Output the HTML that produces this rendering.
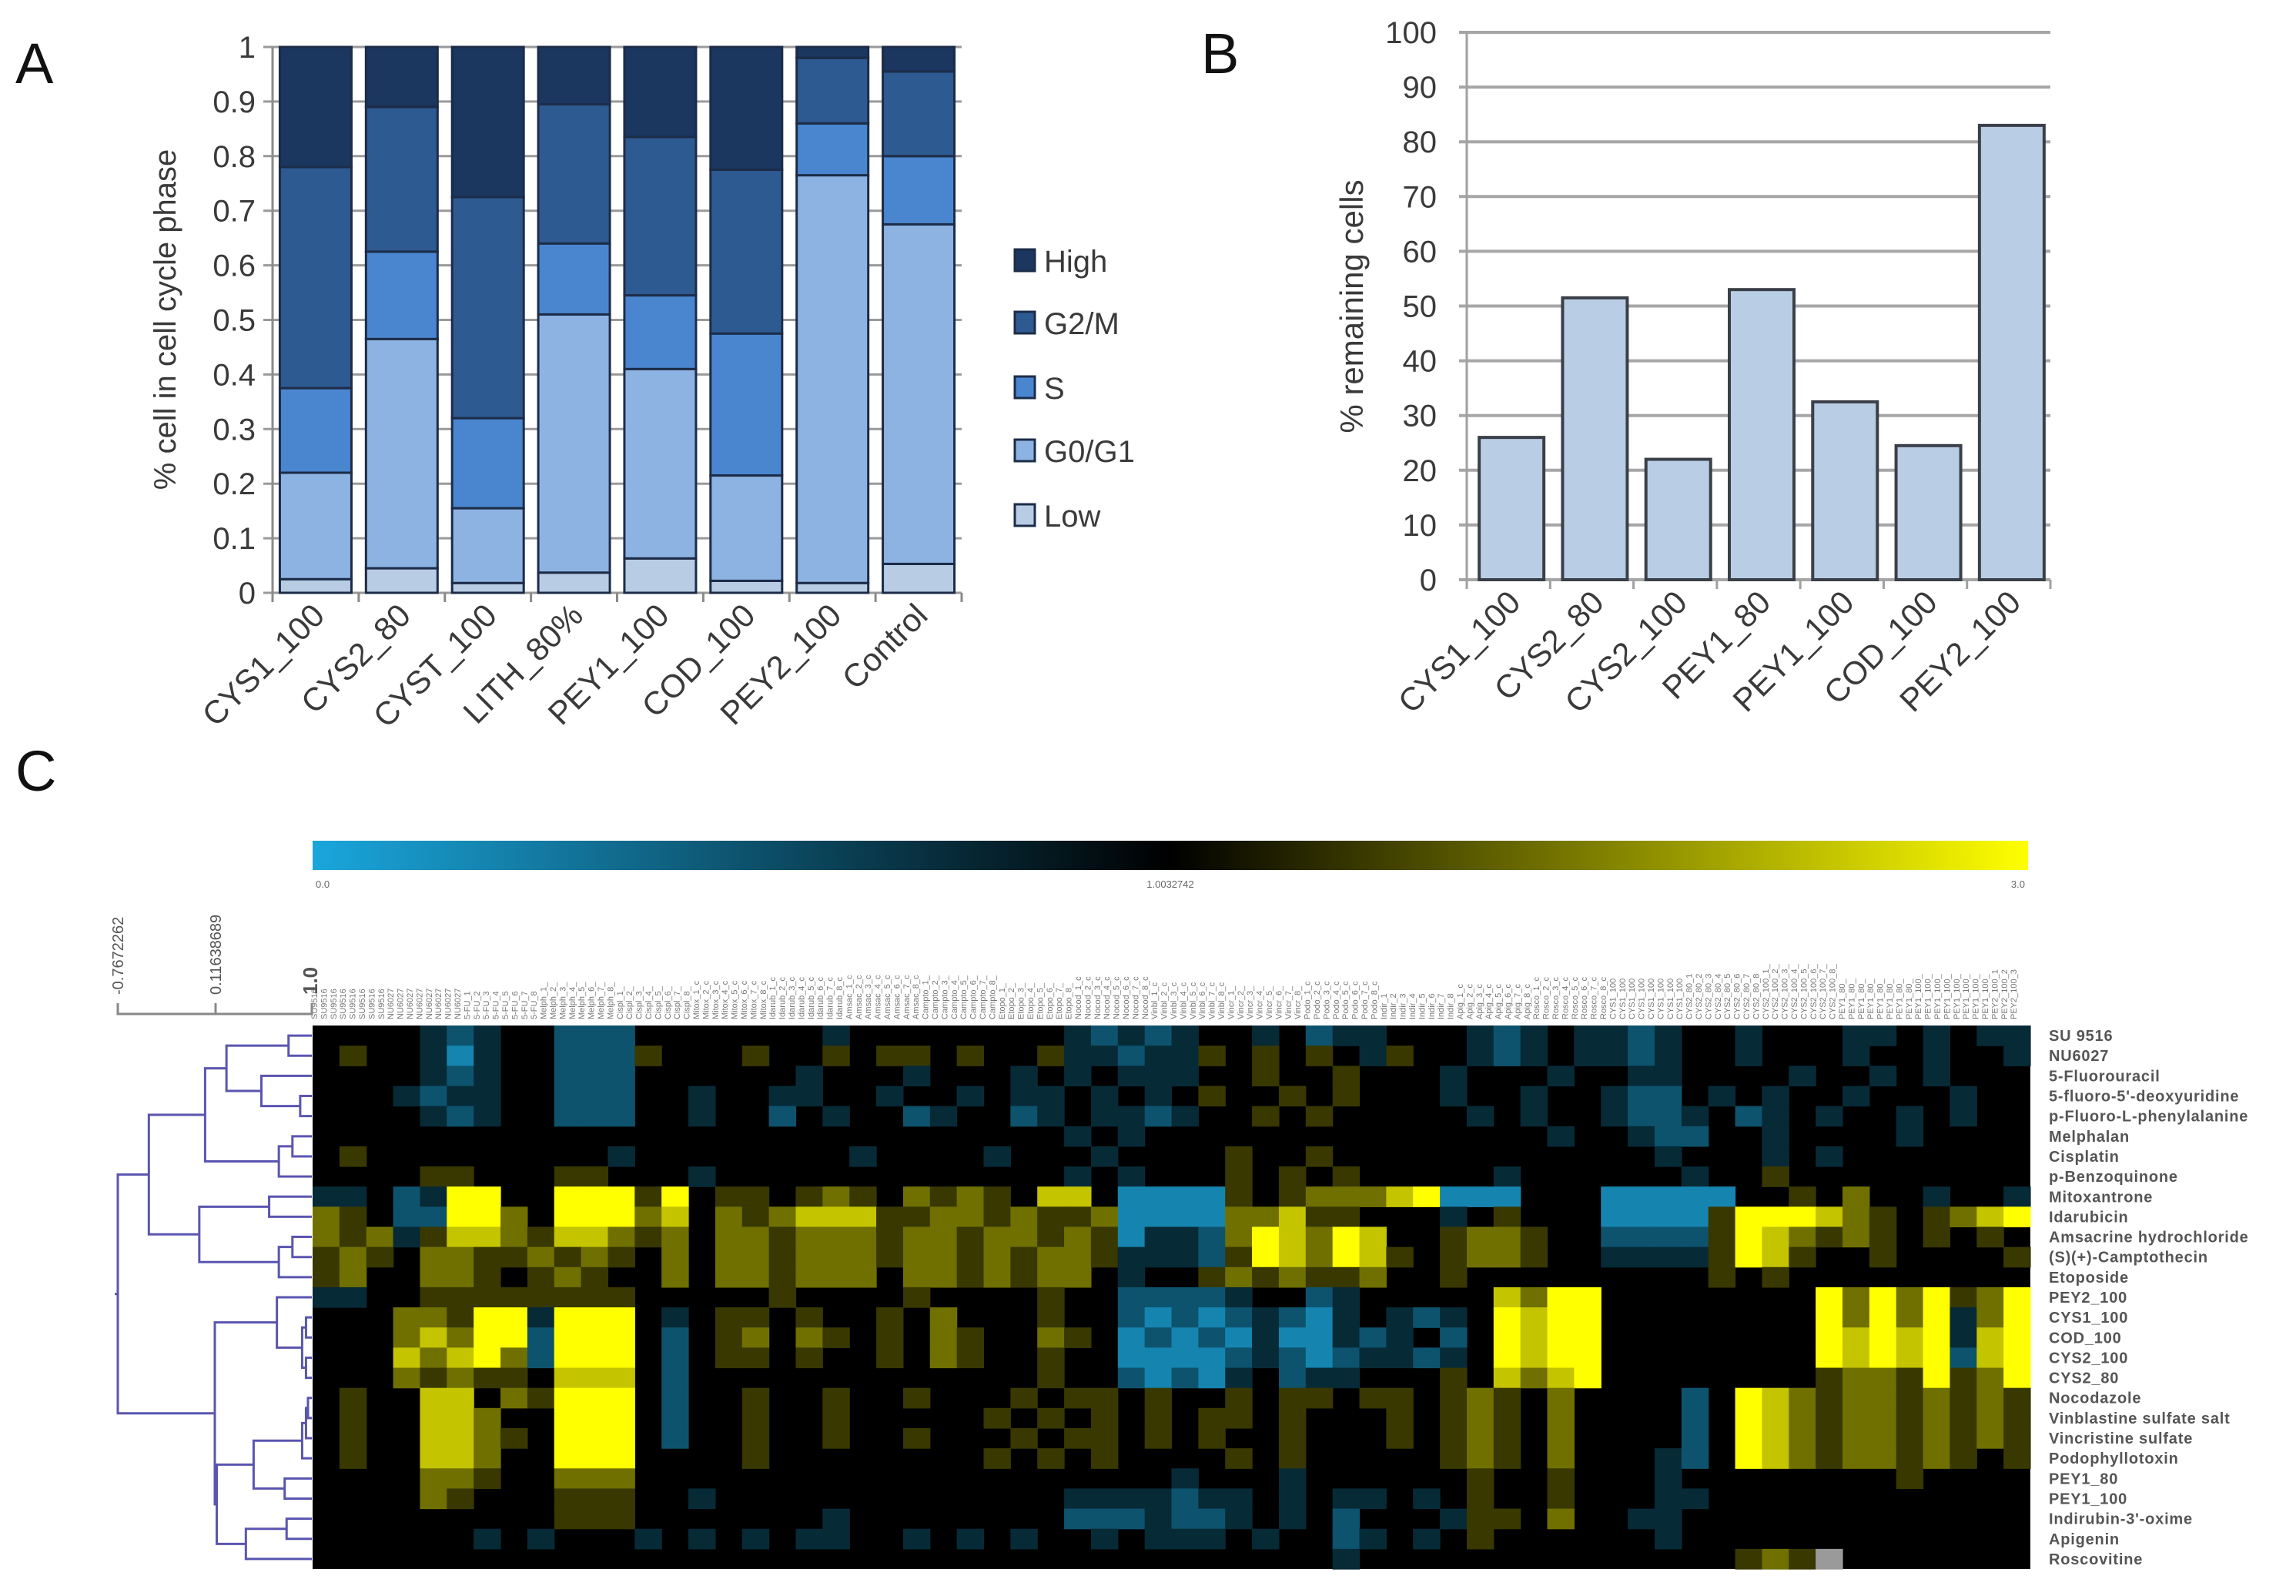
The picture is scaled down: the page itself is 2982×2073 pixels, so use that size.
<!DOCTYPE html>
<html><head><meta charset="utf-8"><style>
html,body{margin:0;padding:0;background:#fff;}
svg{display:block;font-family:"Liberation Sans",sans-serif;}
</style></head><body>
<svg id="fig" width="2982" height="2073" viewBox="0 0 2982 2073" xmlns="http://www.w3.org/2000/svg">
<defs>
<linearGradient id="cbar" x1="0" x2="1" y1="0" y2="0">
<stop offset="0" stop-color="#1aa6dc"/><stop offset="0.5" stop-color="#000"/><stop offset="1" stop-color="#ffff00"/>
</linearGradient>
</defs>
<text x="20" y="108" font-size="74" fill="#111">A</text>
<text x="1560" y="95" font-size="74" fill="#111">B</text>
<text x="20" y="1027" font-size="74" fill="#111">C</text>
<g id="pa"></g>
<g id="pb"></g>
<g id="pc"></g>
</svg>
<script>
// ---------- Panel A data ----------
const catsA = ["CYS1_100","CYS2_80","CYST_100","LITH_80%","PEY1_100","COD_100","PEY2_100","Control"];
const seriesA = ["Low","G0/G1","S","G2/M","High"];
const lowA  = [0.025,0.045,0.018,0.037,0.063,0.022,0.018,0.053];
const g0g1A = [0.195,0.420,0.137,0.473,0.347,0.193,0.747,0.622];
const sA    = [0.155,0.160,0.165,0.130,0.135,0.260,0.095,0.125];
const g2mA  = [0.405,0.265,0.405,0.255,0.290,0.300,0.120,0.155];
const highA = [0.220,0.110,0.275,0.105,0.165,0.225,0.020,0.045];
const ticksA = ["0","0.1","0.2","0.3","0.4","0.5","0.6","0.7","0.8","0.9","1"];
// ---------- Panel B data ----------
const catsB = ["CYS1_100","CYS2_80","CYS2_100","PEY1_80","PEY1_100","COD_100","PEY2_100"];
const valsB = [26,51.5,22,53,32.5,24.5,83];
const ticksB = [0,10,20,30,40,50,60,70,80,90,100];
// ---------- Panel C data ----------
const rowNames = ["SU 9516","NU6027","5-Fluorouracil","5-fluoro-5'-deoxyuridine","p-Fluoro-L-phenylalanine","Melphalan","Cisplatin","p-Benzoquinone","Mitoxantrone","Idarubicin","Amsacrine hydrochloride","(S)(+)-Camptothecin","Etoposide","PEY2_100","CYS1_100","COD_100","CYS2_100","CYS2_80","Nocodazole","Vinblastine sulfate salt","Vincristine sulfate","Podophyllotoxin","PEY1_80","PEY1_100","Indirubin-3'-oxime","Apigenin","Roscovitine"];
const rowCodes = [
["....dcd.",".ccc....","...d....","....dcdc","d..d.cdd","...dcd.d","dcd..d..",".dd.d.dd"],
[".o..dCd.",".ccco...","o..o.oo.","o..oddcd","do.o.o.d","o..dcd.d","dcd..d..",".d..d..d"],
["....dcd.",".ccc....","..d...d.","..d.d.dd","d..o..o.","..d...d.",".dd....d","..d.d..."],
["...dcdd.",".ccc..d.",".dd..d..","d.dd.d.d",".o..o.o.","..d..d..","dcc.d.d.",".d...d.."],
["....dcd.",".ccc..d.",".c.d..cd","..cd.ddc","d..o.o..","...d.d..","dccd.cd.","d..d.d.."],
["........","........","........","....d.d.","........","......d.",".dcc..d.","...d...."],
[".o......","...d....","....d...",".d...d..","..o..o..","........","..d...d.","d......."],
["....oo..",".oo...d.","........","....d.d.","..o.o.o.","....d...","...d..o.","........"],
["dd.cdZZ.",".ZZZoZ.o","o.oyo.yo","yo.YY.CC","CCo.oyyy","YZCCC...","CCCCC..o",".y..d..d"],
["yo.ccZZy",".ZZZyY.y","oyYYYooy","yoyooyCC","CCyyYoo.","..d.o...","CCCCoZZZ","Yyo.oyYZ"],
["yoydoYYy","oYYyoy.y","yoyyyoyy","oyyoyoCd","dcyZYyZY","..oyyo..","ccccoZYy","oyo.o.o."],
["oyo.yyoo","yoyo.y.y","yoyyyoyy","oyoyyodd","dcoZYyZY","o.oyyo..","ddddoZYo","..o....o"],
["oy..yyo.","oyo..y.y","yoyyy.yy","oyoyy.d.",".oyoyooy","..o.....","....o.o.","........"],
["dd..oooo","oooo....",".o....o.","...o..cc","ccd..cd.","....YyZZ","........","ZyZyZoyZ"],
["...yyoZZ","dZZZ.d.o","o.o..o.y","...o..cC","cCcdcCd.","dcd.ZYZZ","........","ZyZyZdyZ"],
["...yYyZZ","cZZZ.c.o","y.yo.o.y","o..yo.Cc","CcCdCCdc","d.c.ZYZZ","........","ZYZYZdYZ"],
["...YyYZy","cZZZ.c.o","o.o..o.y","o..o..CC","CCcdcCcd","dcd.ZYZZ","........","ZYZYZcYZ"],
["...yoyoo",".YYY.c..","........","...o..cC","cCd.cdd.","..o.YyYZ","........","oyyoZoyZ"],
[".o..YY.y","oZZZ.c..","o..o..o.","..o.oo.o","..o.oo.o","o.oyo.y.","...c.ZYy","oyyoyoyo"],
[".o..YYy.",".ZZZ.c..","o..o....",".o.o.o.o",".oo.o...","o.oyo.y.","...c.ZYy","oyyoyoyo"],
[".o..YYyo",".ZZZ.c..","o..o..o.","..o.oo.o",".o..o...","o.oyo.y.","...c.ZYy","oyyoyoyo"],
[".o..YYy.",".ZZZ....","o.......",".o.o.o..","..o.o...","..oyo.y.","..dc.ZYy","oyyoyo.o"],
["....yyo.",".yyy....","........","........","d...d...","...o..o.","..d.....","...o...."],
["....yo..",".ooo..d.","........","....dddd","cdd.d.dd",".d.o..o.","..dd....","........"],
["........",".ooo....","...d....","....cccd","ccd.d.c.","..doo.y.",".dd.....","........"],
["......d.","d...d.d.","d.dd..d.","d.d..d.d","dd.d..cd",".d.o....","..d.....","........"],
["........","........","........","........","......d.","........",".....oyo","g......."]
];
const codeValue = {".":1.0,"d":0.75,"c":0.5,"C":0.2,"o":1.4,"y":1.8,"Y":2.4,"Z":3.0,"g":-1};
const cbarLabels = ["0.0","1.0032742","3.0"];
const dendroScale = ["-0.7672262","0.11638689","1.0"];
// merges: [childA, childB, height]; leaves 0..26, new nodes numbered from 27
const merges = [
[0,1,0.88],[3,4,0.94],[2,28,0.74],[27,29,0.56],[5,6,0.90],[31,7,0.83],[30,32,0.45],
[8,9,0.78],[10,11,0.90],[35,12,0.83],[34,36,0.42],[33,37,0.16],
[14,15,0.97],[16,17,0.97],[39,40,0.95],[13,41,0.82],
[18,19,0.98],[43,20,0.97],[44,21,0.95],[22,23,0.86],[45,46,0.70],[24,25,0.87],[48,26,0.66],[47,49,0.51],
[42,50,0.50],[38,51,0.0]
];

const NS="http://www.w3.org/2000/svg";
function mk(parent,tag,attrs,text){const e=document.createElementNS(NS,tag);for(const k in attrs)e.setAttribute(k,attrs[k]);if(text!==undefined)e.textContent=text;parent.appendChild(e);return e;}

// ===== Panel A =====
(function(){
const g=document.getElementById('pa');
const x0=354,x1=1249,yB=770,yT=61;
const ys=v=>yB-v*(yB-yT);
const cw=(x1-x0)/catsA.length, bw=93;
ticksA.forEach((t,i)=>{const v=i/10;const y=ys(v);
 const gl=mk(g,'line',{x1:x0-12,x2:x1,y1:y,y2:y,stroke:'#9a9a9a','stroke-width':3});
 
 
 const tl=mk(g,'text',{x:332,y:y+14,'font-size':40,'text-anchor':'end',fill:'#3a3a3a'},t);
 
 
});
mk(g,'line',{x1:x0,x2:x0,y1:yT,y2:yB+10,stroke:'#8a8a8a','stroke-width':3});
for(let i=0;i<=catsA.length;i++){mk(g,'line',{x1:x0+i*cw,x2:x0+i*cw,y1:yB,y2:yB+12,stroke:'#8a8a8a','stroke-width':3});}
const cols=["#b8cce4","#8db3e2","#4a86cf","#2e5a92","#1b365f"];
const ser=[lowA,g0g1A,sA,g2mA,highA];
catsA.forEach((c,i)=>{
 const bx=x0+i*cw+(cw-bw)/2; let acc=0;
 ser.forEach((arr,k)=>{const v=arr[i];
  const r=mk(g,'rect',{x:bx,y:ys(acc+v),width:bw,height:ys(acc)-ys(acc+v),fill:cols[k],stroke:'#1c2c48','stroke-width':3});
  
  
  acc+=v;});
 const cx=bx+bw/2+14;
 const tl=mk(g,'text',{x:cx,y:yB+32,'font-size':42,'text-anchor':'end',fill:'#3a3a3a',transform:`rotate(-45 ${cx} ${yB+32})`},c);
 
 
});
const yl=mk(g,'text',{x:0,y:0,'font-size':40,'text-anchor':'middle',fill:'#3a3a3a',transform:'translate(228 415) rotate(-90)'},'% cell in cell cycle phase');


const lys=[339,420,504,586,670];
[4,3,2,1,0].forEach((k,j)=>{
 const sq=mk(g,'rect',{x:1318,y:lys[j]-15,width:26,height:28,fill:cols[k],stroke:'#1c2c48','stroke-width':3});
 
 
 const t=mk(g,'text',{x:1356,y:lys[j]+14,'font-size':40,fill:'#3a3a3a'},seriesA[k]);
 
 
});
})();

// ===== Panel B =====
(function(){
const g=document.getElementById('pb');
const x0=1905,x1=2663,yB=753,yT=42;
const ys=v=>yB-v/100*(yB-yT);
const cw=(x1-x0)/catsB.length, bw=84;
ticksB.forEach(v=>{const y=ys(v);
 const gl=mk(g,'line',{x1:x0-10,x2:x1,y1:y,y2:y,stroke:'#a6a6a6','stroke-width':4});
 
 
 const t=mk(g,'text',{x:1866,y:y+14,'font-size':40,'text-anchor':'end',fill:'#3a3a3a'},String(v));
 
 
});
mk(g,'line',{x1:x0,x2:x0,y1:yT,y2:yB+10,stroke:'#a0a0a0','stroke-width':3});
for(let i=0;i<=catsB.length;i++){mk(g,'line',{x1:x0+i*cw,x2:x0+i*cw,y1:yB,y2:yB+12,stroke:'#a0a0a0','stroke-width':3});}
catsB.forEach((c,i)=>{
 const bx=x0+i*cw+(cw-bw)/2+4;
 const r=mk(g,'rect',{x:bx,y:ys(valsB[i]),width:bw,height:yB-ys(valsB[i]),fill:'#b9cde5',stroke:'#3a3f48','stroke-width':4});
 
 
 const cx=bx+bw/2+14;
 const t=mk(g,'text',{x:cx,y:yB+32,'font-size':42,'text-anchor':'end',fill:'#3a3a3a',transform:`rotate(-45 ${cx} ${yB+32})`},c);
 
 
});
const yl=mk(g,'text',{x:0,y:0,'font-size':42,'text-anchor':'middle',fill:'#3a3a3a',transform:'translate(1770 398) rotate(-90)'},'% remaining cells');


})();

// ===== Panel C =====
(function(){
const g=document.getElementById('pc');
const hx0=406,hx1=2637,hy0=1332,hy1=2038;
const rows=rowCodes.map(r=>r.join(''));
const nC=64,nR=rows.length;
const cw=(hx1-hx0)/nC, rh=(hy1-hy0)/nR;
const cb=mk(g,'rect',{x:406,y:1092,width:2228,height:38,fill:'url(#cbar)'});


[[410,'start'],[1520,'middle'],[2630,'end']].forEach((p,i)=>{
 const t=mk(g,'text',{x:p[0],y:1153,'font-size':13,'text-anchor':p[1],fill:'#666'},cbarLabels[i]);
 
 
});
function color(v){
 if(v<0)return '#9a9a9a';
 if(v<=1){const t=1-v;return `rgb(${Math.round(26*t)},${Math.round(166*t)},${Math.round(220*t)})`;}
 const t=Math.min(1,(v-1)/2);const c=Math.round(255*Math.min(1,t*1.1));return `rgb(${c},${c},0)`;
}
mk(g,'rect',{x:hx0,y:hy0,width:hx1-hx0,height:hy1-hy0,fill:'#000'});
rows.forEach((s,r)=>{
 for(let c=0;c<nC;c++){
  const ch=s[c]||'.';const v=codeValue[ch]!==undefined?codeValue[ch]:1;
  if(ch==='.')continue;
  const cell=mk(g,'rect',{x:hx0+c*cw,y:hy0+r*rh,width:cw+0.6,height:rh+0.6,fill:color(v)});
  
  
 }
 const t=mk(g,'text',{x:2661,y:hy0+(r+0.5)*rh+7,'font-size':20,'font-weight':'bold',fill:'#555','letter-spacing':'0.8'},rowNames[r]);
 
 
});
// column labels (tiny rotated)
const colBase=["SU9516","NU6027","5-FU","Melph","Cispl","Mitox","Idarub","Amsac","Campto","Etopo","Nocod","Vinbl","Vincr","Podo","Indir","Apig","Rosco","CYS1_100","CYS2_80","CYS2_100","PEY1_80","PEY1_100","PEY2_100","COD_100"];
const colLen=[4,4,4,6,6,8,10,9,7,6,9,8,6,8,5,7,9,6,7,9,6,7,8,9];
const nL=Math.floor((hx1-hx0)/12.4);
for(let i=0;i<nL;i++){
 const x=hx0+6+i*12.4;const b=colBase[Math.floor(i/8)%colBase.length];
 const nm=(b+"_"+(i%8+1)+"_c").slice(0,colLen[Math.floor(i/8)%colLen.length]+2);
 const t=mk(g,'text',{x:0,y:0,'font-size':11,fill:'#777',transform:`translate(${x} 1324) rotate(-90)`},nm);
 
 
}
// dendrogram
const dx=h=>153+h*(405-153);
const pos={};
for(let i=0;i<nR;i++)pos[i]={y:hy0+(i+0.5)*rh,x:405};
const st='#5a55b0';
merges.forEach((m,k)=>{
 const a=pos[m[0]],b=pos[m[1]],x=dx(m[2]);
 const p=mk(g,'path',{d:`M${a.x} ${a.y}H${x}V${b.y}H${b.x}`,fill:'none',stroke:st,'stroke-width':3});
 
 
 pos[27+k]={x:x,y:(a.y+b.y)/2};
});
const root=pos[27+merges.length-1];
mk(g,'line',{x1:root.x-4,x2:root.x,y1:root.y,y2:root.y,stroke:st,'stroke-width':3});
// dendrogram scale
mk(g,'path',{d:'M153 1303V1317H405V1303M280 1317V1303',fill:'none',stroke:'#888','stroke-width':3});
[[153,20],[280,20],[405,26]].forEach((p,i)=>{
 const t=mk(g,'text',{x:0,y:0,'font-size':p[1],fill:'#555','font-weight':i==2?'bold':'normal',transform:`translate(${p[0]+7} 1292) rotate(-90)`},dendroScale[i]);
 
 
});
})();
</script>
</body></html>
